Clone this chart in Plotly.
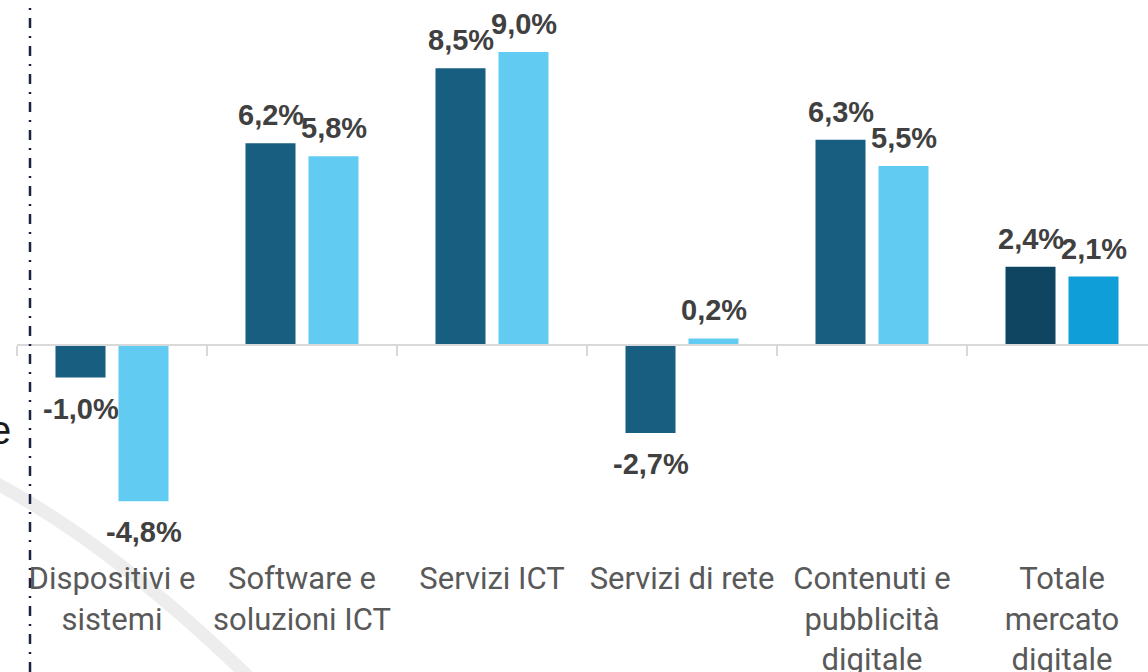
import plotly.graph_objects as go

# ---- data ----
categories = ["Dispositivi e<br>sistemi", "Software e<br>soluzioni ICT", "Servizi ICT",
              "Servizi di rete", "Contenuti e<br>pubblicità<br>digitale", "Totale<br>mercato<br>digitale"]
series_a = [-1.0, 6.2, 8.5, -2.7, 6.3, 2.4]
series_b = [-4.8, 5.8, 9.0, 0.2, 5.5, 2.1]

colors_a = ["#175E80"] * 5 + ["#0F4560"]
colors_b = ["#62CBF2"] * 5 + ["#0F9ED8"]

W, H = 1148, 672
L, R, T, B = 17, 0, 0, 112
PW, PH = W - L - R, H - T - B
CAT_PX = 190.0
ZERO_PX = 345.0
PX_PER_UNIT = 32.56

x_range = [-0.5, -0.5 + PW / CAT_PX]
y_range = [-(PH - ZERO_PX) / PX_PER_UNIT, ZERO_PX / PX_PER_UNIT]


def fmt(v):
    return f"{v:.1f}".replace(".", ",") + "%"


fig = go.Figure()
fig.add_trace(go.Bar(x=categories, y=series_a, marker=dict(color=colors_a, line=dict(width=0)),
                     hoverinfo="skip", showlegend=False))
fig.add_trace(go.Bar(x=categories, y=series_b, marker=dict(color=colors_b, line=dict(width=0)),
                     hoverinfo="skip", showlegend=False))

label_font = dict(family="Liberation Sans, Arial, sans-serif", size=29, color="#404040")
annotations = []
for vals, shift in ((series_a, -31.5), (series_b, 31.5)):
    for c, v in zip(categories, vals):
        annotations.append(dict(
            x=c, y=v, xref="x", yref="y", text=f"<b>{fmt(v)}</b>", showarrow=False,
            xshift=shift, yanchor="bottom" if v >= 0 else "top",
            yshift=10 if v >= 0 else -13, font=label_font))


def px(xp):
    return (xp - L) / PW


def py(yp):
    return (PH - yp) / PH


# cut-off text at the left edge
annotations.append(dict(x=px(13), y=py(430), xref="paper", yref="paper",
                        text="e", showarrow=False, xanchor="right", yanchor="middle",
                        font=dict(family="Liberation Sans, Arial, sans-serif", size=40, color="#1a1a1a")))

shapes = [
    # decorative gray arc
    dict(type="path", xref="paper", yref="paper", layer="below",
         path=f"M {px(-20)},{py(475)} Q {px(110)},{py(540)} {px(262)},{py(690)}",
         line=dict(color="#EDEDED", width=13)),
    # dash-dot vertical divider
    dict(type="line", xref="paper", yref="paper", x0=px(30), x1=px(30), y0=py(700), y1=py(-10),
         line=dict(color="#1B2340", width=2.5, dash="10px,8px,2px,8px")),
]

fig.update_layout(
    width=W, height=H, margin=dict(l=L, r=R, t=T, b=B, autoexpand=False),
    paper_bgcolor="white", plot_bgcolor="rgba(0,0,0,0)",
    barmode="group", bargap=0.337, bargroupgap=0.206,
    annotations=annotations, shapes=shapes, showlegend=False,
    xaxis=dict(range=x_range, type="category", anchor="free", position=(PH - ZERO_PX) / PH,
               showline=True, linecolor="#D9D9D9", linewidth=2, automargin=False, tickangle=0,
               ticks="outside", tickson="boundaries", ticklen=10, tickwidth=2, tickcolor="#D9D9D9",
               ticklabelstandoff=206,
               tickfont=dict(family="Roboto, Arial, sans-serif", size=31, color="#595959"),
               showgrid=False, zeroline=False, fixedrange=True),
    yaxis=dict(range=y_range, showticklabels=False, showgrid=False, zeroline=False,
               showline=False, ticks="", fixedrange=True, automargin=False),
)

fig.write_html("out.html", config={"displayModeBar": False},
               post_script="document.body.style.margin='0';document.body.style.overflow='hidden';")
